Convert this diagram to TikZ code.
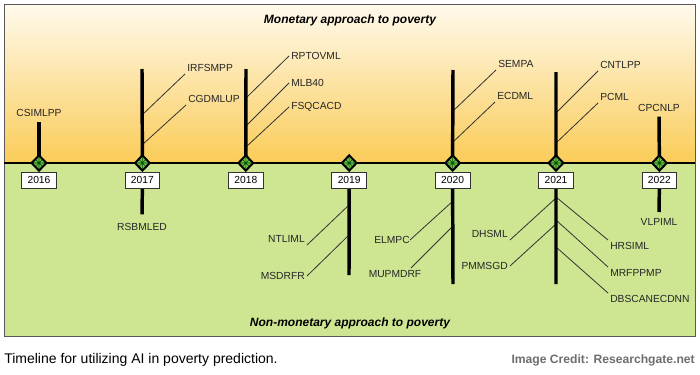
\documentclass[tikz,border=0pt]{standalone}
\usepackage{fontspec}
\setmainfont{Liberation Sans}
\usetikzlibrary{shapes.geometric}
\definecolor{creamtop}{RGB}{255,250,237}
\definecolor{goldbot}{RGB}{250,204,88}
\definecolor{meadow}{RGB}{206,230,146}
\definecolor{leafgreen}{RGB}{110,190,70}
\definecolor{credgray}{RGB}{110,110,110}

\begin{document}
\begin{tikzpicture}[x=0.75pt,y=-0.75pt]
    \pgfmathsetmacro{\axisy}{163}
    \pgfmathsetmacro{\gap}{103.4}
    \pgfmathsetmacro{\boxy}{180}
    \tikzset{lbl/.style={font=\fontsize{7.7}{9}\selectfont,text=black!85,inner sep=1.5pt},
      yearbox/.style={draw=black!80,fill=white,line width=0.6pt,minimum width=26pt,minimum height=12pt,inner sep=0pt,font=\fontsize{7.7}{9}\selectfont},
      yearmark/.style={diamond,draw=black,line width=1.5pt,fill=leafgreen,minimum width=11pt,minimum height=11.5pt,inner sep=0pt,outer sep=0pt,path picture={\draw[green!30!black,line width=0.4pt] (path picture bounding box.north west) -- (path picture bounding box.south east) (path picture bounding box.north east) -- (path picture bounding box.south west) (path picture bounding box.north) -- (path picture bounding box.south) (path picture bounding box.west) -- (path picture bounding box.east);}},
      bar/.style={line width=2.6pt},
      branch/.style={line width=0.6pt,draw=black!80},
      heading/.style={font=\bfseries\itshape\fontsize{9}{11}\selectfont}}
    \useasboundingbox (0,0) rectangle (700,375);
    \fill[white] (0,0) rectangle (700,375);
    \shade[top color=creamtop,bottom color=goldbot] (4,4) rectangle (695,\axisy);
    \fill[meadow] (4,\axisy) rectangle (695,336);
    \draw[black!65,line width=0.7pt] (4,4) rectangle (695,336);
    \draw[line width=0.9pt] (4,\axisy) -- (695,\axisy);
    \node[heading] (money) at (350,20) {Monetary approach to poverty};
    \node[heading] (nonmoney) at (350,323) {Non-monetary approach to poverty};
    \foreach \yr [count=\i from 0] in {2016,2017,2018,2019,2020,2021,2022}
        \coordinate (c\yr) at ({39+\gap*\i},\axisy);
    % labels above the axis
    \node[lbl,anchor=south] (CSIMLPP) at (39,119) {CSIMLPP};
    \node[lbl,anchor=south west] (IRFSMPP) at (185,74) {IRFSMPP};
    \node[lbl,anchor=south west] (CGDMLUP) at (186,105) {CGDMLUP};
    \node[lbl,anchor=west] (RPTOVML) at (289,56) {RPTOVML};
    \node[lbl,anchor=west] (MLB40) at (289,83) {MLB40};
    \node[lbl,anchor=west] (FSQCACD) at (289,107) {FSQCACD};
    \node[lbl,anchor=south west] (SEMPA) at (496,70) {SEMPA};
    \node[lbl,anchor=south west] (ECDML) at (495,102) {ECDML};
    \node[lbl,anchor=south west] (CNTLPP) at (598,71) {CNTLPP};
    \node[lbl,anchor=south west] (PCML) at (598,103) {PCML};
    \node[lbl,anchor=south] (CPCNLP) at (659,114) {CPCNLP};
    % labels below the axis
    \node[lbl,anchor=north] (RSBMLED) at (142,221) {RSBMLED};
    \node[lbl,anchor=south east] (NTLIML) at (307,245) {NTLIML};
    \node[lbl,anchor=east] (MSDRFR) at (307,276) {MSDRFR};
    \node[lbl,anchor=east,inner sep=0pt] (ELMPC) at (410,240) {ELMPC};
    \node[lbl,anchor=north] (MUPMDRF) at (395,268) {MUPMDRF};
    \node[lbl,anchor=south east] (DHSML) at (510,240) {DHSML};
    \node[lbl,anchor=east] (PMMSGD) at (510,266) {PMMSGD};
    \node[lbl,anchor=north west] (HRSIML) at (608,240) {HRSIML};
    \node[lbl,anchor=north west] (MRFPPMP) at (608,267) {MRFPPMP};
    \node[lbl,anchor=north west] (DBSCANECDNN) at (608,293) {DBSCANECDNN};
    \node[lbl,anchor=north] (VLPIML) at (659,216) {VLPIML};
    % branch points on the stems
    \coordinate (t2017) at (142,69); \coordinate (t2018) at (246,69); \coordinate (t2020) at (453,70); \coordinate (t2021) at (556,72);
    \coordinate (d2019) at (349,275); \coordinate (d2020) at (453,284); \coordinate (d2021) at (556,284);
    \draw[branch] (142,115) -- (IRFSMPP.south west);
    \draw[branch] (142,145) -- (CGDMLUP.south west);
    \draw[branch] (246,98) -- (RPTOVML.west);
    \draw[branch] (246,126) -- (MLB40.west);
    \draw[branch] (246,147) -- (FSQCACD.west);
    \draw[branch] (453,111) -- (SEMPA.south west);
    \draw[branch] (453,142) -- (ECDML.south west);
    \draw[branch] (556,113) -- (CNTLPP.south west);
    \draw[branch] (556,143) -- (PCML.south west);
    \draw[branch] (349,205) -- (NTLIML.south east);
    \draw[branch] (349,235) -- (MSDRFR.east);
    \draw[branch] (453,201) -- (ELMPC.east);
    \draw[branch] (453,226) -- ([xshift=12pt]MUPMDRF.north);
    \draw[branch] (556,198) -- (DHSML.south east);
    \draw[branch] (556,224) -- (PMMSGD.east);
    \draw[branch] (556,197) -- (HRSIML.north west);
    \draw[branch] (556,220) -- (MRFPPMP.north west);
    \draw[branch] (556,247) -- (DBSCANECDNN.north west);
    % stems
    \draw[bar,shorten >=2pt] (c2016) -- (CSIMLPP.south);
    \draw[bar] (c2017) -- (t2017);
    \draw[bar] (c2018) -- (t2018);
    \draw[bar] (c2020) -- (t2020);
    \draw[bar] (c2021) -- (t2021);
    \draw[bar,shorten >=2pt] (c2022) -- (CPCNLP.south);
    \draw[bar,shorten >=5pt] (c2017) ++(0,20) -- (RSBMLED.north);
    \draw[bar] (c2019) ++(0,20) -- (d2019);
    \draw[bar] (c2020) ++(0,20) -- (d2020);
    \draw[bar] (c2021) ++(0,20) -- (d2021);
    \draw[bar,shorten >=3pt] (c2022) ++(0,20) -- (VLPIML.north);
    \foreach \yr in {2016,2017,2018,2019,2020,2021,2022}{
        \node[yearmark] (m\yr) at (c\yr) {};
        \node[yearbox] (b\yr) at (c\yr |- 0,\boxy) {\yr};
    }
    \node[anchor=west,inner sep=0pt,font=\fontsize{10.5}{12}\selectfont] (caption) at (4,360) {Timeline for utilizing AI in poverty prediction.};
    \node[anchor=east,inner sep=0pt,text=credgray,font=\bfseries\fontsize{9.1}{11}\selectfont] (credit) at (695,360) {Image Credit: Researchgate.net};
\end{tikzpicture}
\end{document}
